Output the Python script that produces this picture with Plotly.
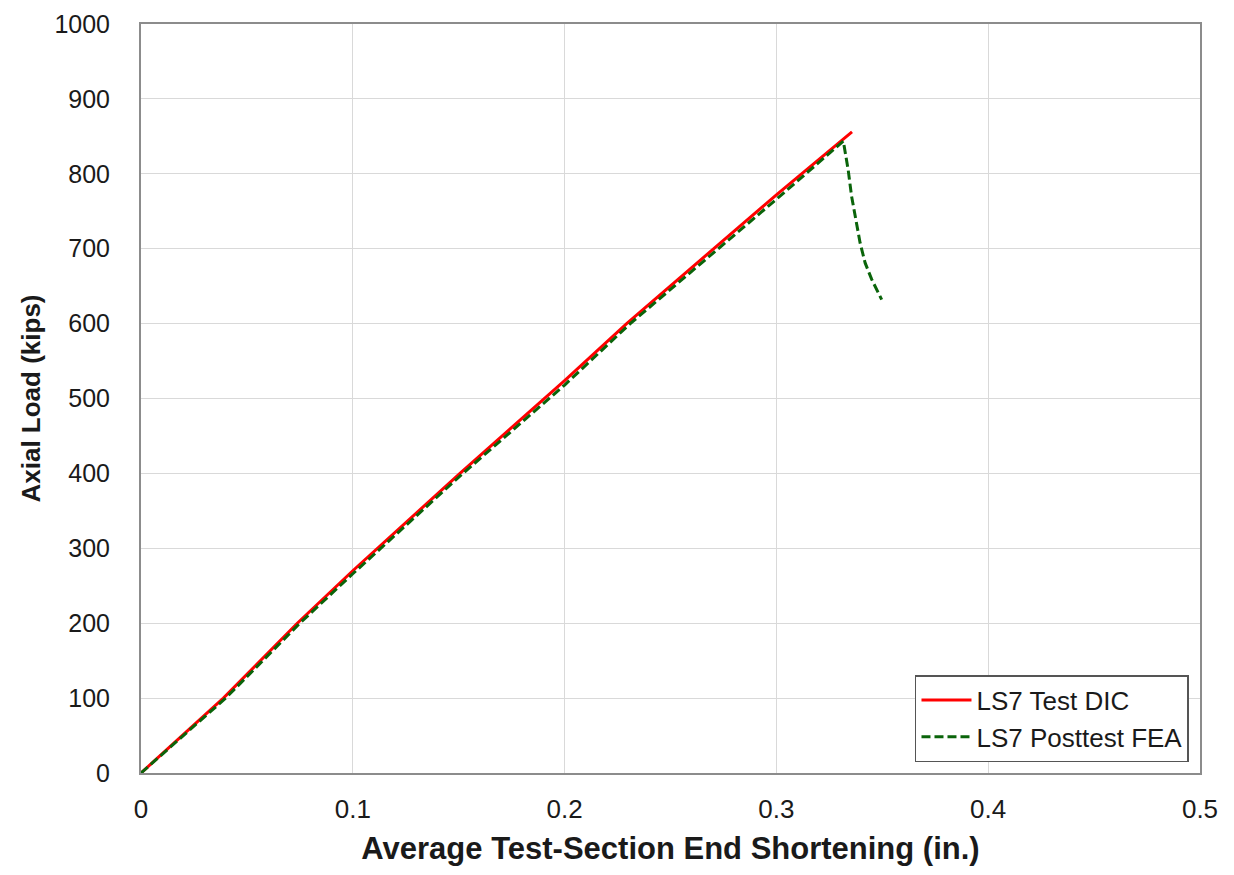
import plotly.graph_objects as go

# Data
test_x = [0, 0.0389, 0.0738, 0.1, 0.1506, 0.2, 0.2293, 0.2702, 0.3, 0.3357]
test_y = [0, 100, 200, 270, 400, 524, 600, 700, 772, 856]

fea_x = [0, 0.040, 0.075, 0.1, 0.152, 0.2, 0.231, 0.2725, 0.3, 0.3316,
         0.3339, 0.3355, 0.3376, 0.3395, 0.3419, 0.3450, 0.3497]
fea_y = [0, 100, 200, 266, 400, 518, 600, 700, 766, 843.6,
         805, 770, 739, 708, 681, 659, 632]

x_ticks = [0, 0.1, 0.2, 0.3, 0.4, 0.5]
x_tick_labels = ["0", "0.1", "0.2", "0.3", "0.4", "0.5"]
y_ticks = list(range(0, 1001, 100))

font_family = "Liberation Sans, Arial, sans-serif"

fig = go.Figure()
fig.add_trace(go.Scatter(x=test_x, y=test_y, mode="lines", name="LS7 Test DIC",
                         line=dict(color="#ff0000", width=3)))
fig.add_trace(go.Scatter(x=fea_x, y=fea_y, mode="lines", name="LS7 Posttest FEA",
                         line=dict(color="#0a640a", width=3, dash="9px,4px")))

fig.update_layout(
    width=1234, height=875,
    margin=dict(l=133, r=42, t=16, b=110),
    paper_bgcolor="white", plot_bgcolor="white",
    font=dict(family=font_family, size=26, color="#1a1a1a"),
    showlegend=True,
    legend=dict(x=0.9896, y=0.0146, xanchor="right", yanchor="bottom",
                bgcolor="white", bordercolor="#555555", borderwidth=1.5,
                font=dict(size=26, family=font_family, color="#1a1a1a"),
                tracegroupgap=0, itemwidth=50),
)
fig.update_xaxes(
    range=[0, 0.5], tickvals=x_ticks, ticktext=x_tick_labels,
    showgrid=True, gridcolor="#d9d9d9", gridwidth=1,
    showline=True, linecolor="#8c8c8c", linewidth=2, mirror=True,
    ticks="", ticklabelstandoff=12, zeroline=False, automargin=False,
    ticklabeloverflow="allow",
    title=dict(text="<b>Average Test-Section End Shortening (in.)</b>",
               font=dict(size=31, family=font_family, color="#1a1a1a"), standoff=14),
)
fig.update_yaxes(
    range=[0, 1000], tickvals=y_ticks, tickfont=dict(size=25),
    showgrid=True, gridcolor="#d9d9d9", gridwidth=1,
    showline=True, linecolor="#8c8c8c", linewidth=2, mirror=True,
    ticks="", ticklabelstandoff=24, zeroline=False, automargin=False,
    ticklabeloverflow="allow",
    title=dict(text="<b>Axial Load (kips)</b>",
               font=dict(size=26, family=font_family, color="#1a1a1a"), standoff=6),
)

fig.write_html("out.html")
